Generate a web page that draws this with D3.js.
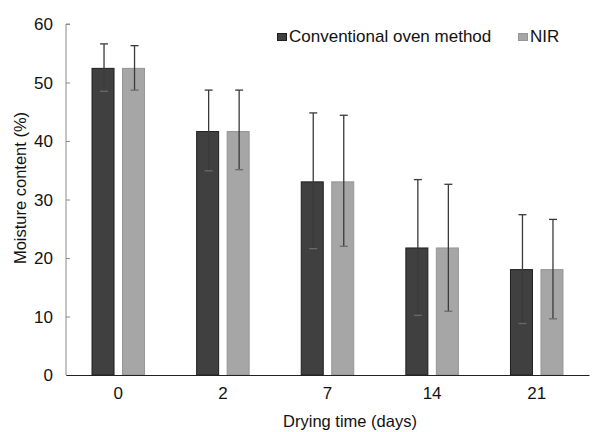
<!DOCTYPE html>
<html>
<head>
<meta charset="utf-8">
<script src="https://cdn.jsdelivr.net/npm/d3@7"></script>
<style>
  html, body { margin: 0; padding: 0; background: #fff; }
  svg { display: block; font-family: "Liberation Sans", Arial, sans-serif; }
</style>
</head>
<body>
<svg id="chart" width="603" height="432"></svg>
<script>
const categories = ["0", "2", "7", "14", "21"];
const seriesNames = ["Conventional oven method", "NIR"];
const ovenValues = [52.5, 41.7, 33.1, 21.8, 18.1];
const ovenErrLow = [48.5, 34.9, 21.6, 10.2, 8.8];
const ovenErrHigh = [56.6, 48.7, 44.8, 33.4, 27.4];
const nirValues = [52.5, 41.7, 33.1, 21.8, 18.1];
const nirErrLow = [48.7, 35.1, 22.0, 10.9, 9.6];
const nirErrHigh = [56.3, 48.7, 44.4, 32.6, 26.6];
const yTicks = [0, 10, 20, 30, 40, 50, 60];
const colors = ["#404040", "#a6a6a6"];
const strokes = ["#1e1e1e", "#959595"];

const svg = d3.select("#chart");
const mLeft = 66, mRight = 589, mTop = 24, mBottom = 375;

const x0 = d3.scaleBand().domain(categories).range([mLeft, mRight])
  .paddingInner(0.4885).paddingOuter(0.244);
const x1 = d3.scaleBand().domain(seriesNames).range([0, x0.bandwidth()]).paddingInner(0.246);
const y = d3.scaleLinear().domain([0, 60]).range([mBottom, mTop]);

const data = [];
categories.forEach((c, i) => {
  data.push({cat: c, s: seriesNames[0], k: 0, v: ovenValues[i], lo: ovenErrLow[i], hi: ovenErrHigh[i]});
  data.push({cat: c, s: seriesNames[1], k: 1, v: nirValues[i], lo: nirErrLow[i], hi: nirErrHigh[i]});
});

// bars
svg.append("g").selectAll("rect").data(data).join("rect")
  .attr("x", d => x0(d.cat) + x1(d.s) + 0.5)
  .attr("y", d => y(d.v) + 0.5)
  .attr("width", x1.bandwidth() - 1)
  .attr("height", d => y(0) - y(d.v) - 0.5)
  .attr("fill", d => colors[d.k])
  .attr("stroke", d => strokes[d.k])
  .attr("stroke-width", 1);

// error bars
const eg = svg.append("g").attr("stroke", "#3a3a3a").attr("stroke-width", 1.3).attr("fill", "none");
data.forEach(d => {
  const cx = x0(d.cat) + x1(d.s) + x1.bandwidth() / 2 + 1;
  eg.append("line").attr("x1", cx).attr("x2", cx).attr("y1", y(d.lo)).attr("y2", y(d.hi));
  eg.append("line").attr("x1", cx - 4).attr("x2", cx + 4).attr("y1", y(d.hi)).attr("y2", y(d.hi));
  eg.append("line").attr("x1", cx - 4).attr("x2", cx + 4).attr("y1", y(d.lo)).attr("y2", y(d.lo))
    .attr("stroke", "#6a6a6a");
});

// y axis
const yAxis = d3.axisRight(y).tickValues(yTicks).tickSize(4).tickFormat("");
const ya = svg.append("g").attr("transform", `translate(${mLeft},0)`).call(yAxis);
ya.select(".domain").attr("stroke", "#8a8a8a").attr("d", `M4,${mTop}H0V${mBottom}`);
ya.selectAll(".tick line").attr("stroke", "#8a8a8a");

svg.append("g").selectAll("text").data(yTicks).join("text")
  .attr("x", 53).attr("y", d => y(d) + 6)
  .attr("text-anchor", "end").attr("font-size", 17).attr("fill", "#111")
  .text(d => d);

// x axis
const xAxis = d3.axisBottom(x0).tickSize(0).tickPadding(12);
const xa = svg.append("g").attr("transform", `translate(0,${mBottom})`).call(xAxis);
xa.select(".domain").attr("stroke", "#222").attr("stroke-width", 1.2);
xa.selectAll(".tick text").attr("font-size", 17).attr("fill", "#111")
  .attr("font-family", "Liberation Sans, Arial, sans-serif");

// axis titles
svg.append("text").attr("x", 350).attr("y", 427).attr("text-anchor", "middle")
  .attr("font-size", 16.5).attr("fill", "#111").text("Drying time (days)");
svg.append("text").attr("transform", "translate(26,188) rotate(-90)").attr("text-anchor", "middle")
  .attr("font-size", 16.5).attr("fill", "#111").text("Moisture content (%)");

// legend
const legendX = [277, 518];
const lg = svg.append("g");
seriesNames.forEach((s, i) => {
  lg.append("rect").attr("x", legendX[i] + 0.5).attr("y", 33.5).attr("width", 9).attr("height", 7)
    .attr("fill", colors[i]).attr("stroke", strokes[i]);
  lg.append("text").attr("x", legendX[i] + 12).attr("y", 42).attr("font-size", 17).attr("fill", "#111").text(s);
});
</script>
</body>
</html>
